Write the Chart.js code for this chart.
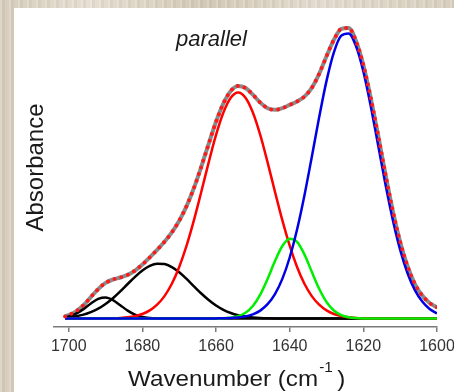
<!DOCTYPE html>
<html lang="en">
<head>
  <meta charset="UTF-8">
  <title>Amide I band fit - parallel</title>
  <style>
    html, body {
      margin: 0;
      padding: 0;
    }
    body {
      width: 454px;
      height: 392px;
      overflow: hidden;
      position: relative;
      background:
        repeating-linear-gradient(90deg, rgba(255,255,255,0.18) 0 2px, rgba(120,100,70,0.07) 2px 5px, rgba(255,255,255,0) 5px 9px),
        linear-gradient(90deg, #d6cdbd 0%, #e6dfd2 20%, #d3c9b7 45%, #e2dbce 70%, #d8cfbf 100%);
    }
    .panel {
      position: absolute;
      left: 14px;
      top: 8px;
      width: 440px;
      height: 384px;
      background: #fff;
    }
    canvas {
      display: block;
    }
  </style>
</head>
<body>
  <div class="panel"><canvas id="fitChart" width="440" height="384"></canvas></div>
  <script src="https://cdn.jsdelivr.net/npm/chart.js"></script>
  <script>
    // wavenumbers (cm-1)
    const wavenumber = [1701, 1700, 1698, 1696, 1694, 1692, 1690, 1688, 1686, 1684, 1682, 1680, 1678,
      1676, 1674, 1672, 1670, 1668, 1666, 1664, 1662, 1660, 1658, 1656, 1654, 1652, 1650, 1648, 1646,
      1644, 1642, 1640, 1638, 1636, 1634, 1632, 1630, 1628, 1626, 1624, 1622, 1620, 1618, 1616, 1614,
      1612, 1610, 1608, 1606, 1604, 1602, 1600];

    // measured spectrum (arbitrary absorbance units)
    const measured = [2.1, 3.4, 7.2, 13.3, 21.4, 29.4, 35.6, 39.0, 41.0, 43.6, 47.9, 54.0, 61.2,
      68.7, 76.8, 86.1, 97.8, 112.4, 130.5, 151.8, 174.6, 196.8, 215.1, 227.5, 232.6, 230.5, 223.8, 215.9, 210.3,
      208.7, 210.4, 213.6, 217.1, 221.9, 230.7, 244.7, 262.2, 278.7, 289.6, 290.5, 277.5, 253.5, 220.7, 183.5, 144.3,
      107.6, 76.6, 52.3, 34.4, 22.9, 15.5, 11.1];

    // fitted component bands
    const band1690 = [1.2, 2.1, 4.9, 9.4, 15.0, 19.6, 21.0, 18.4, 13.3, 7.9, 3.8, 1.5, 0.5,
      0.1, 0, 0, 0, 0, 0, 0, 0, 0, 0, 0, 0, 0, 0, 0, 0,
      0, 0, 0, 0, 0, 0, 0, 0, 0, 0, 0, 0, 0, 0, 0, 0,
      0, 0, 0, 0, 0, 0, 0];
    const band1675 = [0.9, 1.3, 2.3, 3.9, 6.4, 9.8, 14.5, 20.3, 27.1, 34.5, 41.7, 48.0, 52.6,
      54.8, 54.4, 51.4, 46.3, 39.6, 32.2, 25.0, 18.5, 13.0, 8.7, 5.5, 3.3, 1.9, 1.1, 0.6, 0.3,
      0.1, 0, 0, 0, 0, 0, 0, 0, 0, 0, 0, 0, 0, 0, 0, 0,
      0, 0, 0, 0, 0, 0, 0];
    const band1654 = [0, 0, 0, 0, 0, 0, 0.1, 0.3, 0.6, 1.2, 2.4, 4.5, 8.1,
      13.8, 22.4, 34.7, 51.5, 72.8, 98.3, 126.8, 156.1, 183.6, 206.0, 220.8, 226.0, 220.8, 206.0, 183.6, 156.1,
      126.8, 98.3, 72.8, 51.5, 34.7, 22.4, 13.8, 8.1, 4.5, 2.4, 1.2, 0.6, 0.3, 0.1, 0, 0,
      0, 0, 0, 0, 0, 0, 0];
    const band1640 = [0, 0, 0, 0, 0, 0, 0, 0, 0, 0, 0, 0, 0,
      0, 0, 0, 0, 0, 0, 0, 0, 0.1, 0.2, 0.8, 2.3, 5.7, 12.5, 23.8, 39.6,
      57.4, 72.5, 79.8, 76.6, 64.1, 46.7, 29.7, 16.5, 8.0, 3.4, 1.2, 0.4, 0.1, 0, 0, 0,
      0, 0, 0, 0, 0, 0, 0];
    const band1625 = [0, 0, 0, 0, 0, 0, 0, 0, 0, 0, 0, 0, 0,
      0, 0, 0, 0, 0, 0, 0, 0, 0.1, 0.2, 0.4, 1.0, 2.1, 4.2, 7.9, 14.3,
      24.4, 39.6, 61.0, 89.0, 123.1, 161.6, 201.2, 237.6, 266.2, 282.8, 285.1, 272.5, 247.1, 212.6, 173.5, 134.3,
      98.6, 68.6, 45.3, 28.4, 16.9, 9.5, 5.1];

    const xTicks = [1700, 1680, 1660, 1640, 1620, 1600];

    const FONT = '"Liberation Sans", Arial, sans-serif';

    function pts(values) {
      return values.map((v, i) => ({ x: wavenumber[i], y: v }));
    }

    function line(values, color, width, order) {
      return {
        data: pts(values),
        borderColor: color,
        borderWidth: width,
        order: order
      };
    }

    // texts that Chart.js titles can't do (superscript, free placement)
    const textPlugin = {
      id: 'texts',
      afterDraw(chart) {
        const ctx = chart.ctx;
        ctx.save();
        ctx.fillStyle = '#1a1a1a';
        ctx.textBaseline = 'alphabetic';
        ctx.textAlign = 'left';

        ctx.font = 'italic 22px ' + FONT;
        ctx.fillText('parallel', 162, 38);

        ctx.save();
        ctx.font = '24px ' + FONT;
        ctx.translate(29, 159.5);
        ctx.rotate(-Math.PI / 2);
        ctx.textAlign = 'center';
        ctx.fillText('Absorbance', 0, 0);
        ctx.restore();

        // x title, a bit wider than the font
        ctx.save();
        ctx.translate(114, 378);
        ctx.scale(1.1, 1);
        let x = 0;
        ctx.font = '22px ' + FONT;
        ctx.fillText('Wavenumber (cm', x, 0);
        x += ctx.measureText('Wavenumber (cm').width + 1;
        ctx.font = '14px ' + FONT;
        ctx.fillText('-1', x, -14);
        x += ctx.measureText('-1').width + 4;
        ctx.font = '22px ' + FONT;
        ctx.fillText(')', x, 0);
        ctx.restore();
        ctx.restore();
      }
    };

    const gray = line(measured, '#8a8a8a', 4, 6);
    const dots = line(measured, '#ff1a1a', 4, 0);
    dots.borderDash = [0, 7];
    dots.borderCapStyle = 'round';

    new Chart(document.getElementById('fitChart'), {
      type: 'line',
      data: {
        datasets: [
          gray,
          line(band1690, '#000000', 2.5, 5),
          line(band1675, '#000000', 2.5, 4),
          line(band1654, '#ff0000', 2.5, 3),
          line(band1640, '#00ee00', 2.5, 2),
          line(band1625, '#0000e6', 2.5, 1),
          dots
        ]
      },
      options: {
        responsive: false,
        animation: false,
        devicePixelRatio: 1,
        layout: { padding: { left: 40, right: 17, top: 10.5, bottom: 0 } },
        plugins: {
          legend: { display: false },
          tooltip: { enabled: false }
        },
        elements: {
          point: { radius: 0 },
          line: { cubicInterpolationMode: 'monotone' }
        },
        scales: {
          x: {
            type: 'linear',
            reverse: true,
            min: 1600,
            max: 1704,
            afterFit(s) {
              s.height = 65;
              s.paddingLeft = 0;
              s.paddingRight = 0;
            },
            afterBuildTicks(s) { s.ticks = xTicks.map(v => ({ value: v })); },
            grid: { drawOnChartArea: false, drawTicks: true, tickLength: 5, color: '#7a7a7a', lineWidth: 1.5 },
            border: { display: true, color: '#7a7a7a', width: 1.5 },
            ticks: {
              maxRotation: 0,
              autoSkip: false,
              padding: 5,
              color: '#333',
              font: { family: FONT, size: 16 },
              callback: v => String(v)
            }
          },
          y: { display: false, min: -8.5, max: 300 }
        }
      },
      plugins: [textPlugin]
    });
  </script>
</body>
</html>
